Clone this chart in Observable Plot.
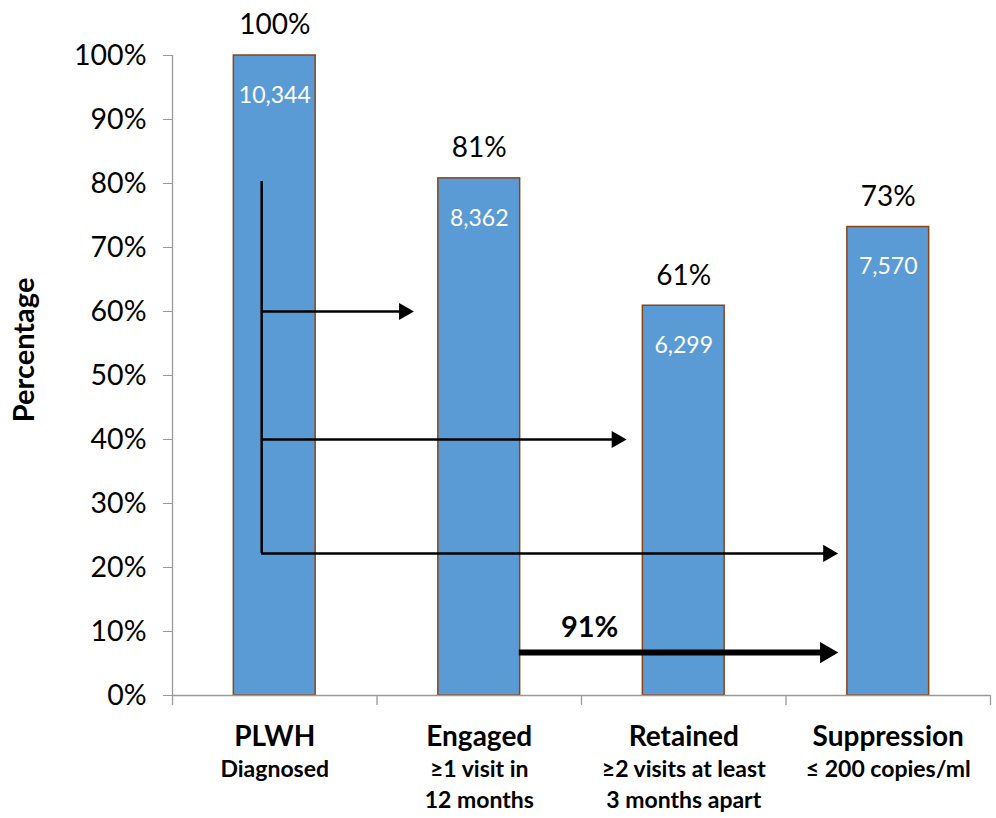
<!DOCTYPE html>
<html>
<head>
<meta charset="utf-8">
<script src="https://cdn.jsdelivr.net/npm/d3@7"></script>
<script src="https://cdn.jsdelivr.net/npm/@observablehq/plot@0.6"></script>
<style>
  html, body { margin: 0; padding: 0; background: #fff; }
  #chart { width: 996px; height: 818px; }
</style>
</head>
<body>
<div id="chart"></div>
<script>
// ---- data ----
const categories = ["PLWH", "Engaged", "Retained", "Suppression"];
const subLabels = ["Diagnosed", "≥1 visit in\n12 months", "≥2 visits at least\n3 months apart", "≤ 200 copies/ml"];
const percents = [100, 80.8, 60.9, 73.2];
const pctLabels = ["100%", "81%", "61%", "73%"];
const counts = ["10,344", "8,362", "6,299", "7,570"];
const yTicks = [0, 10, 20, 30, 40, 50, 60, 70, 80, 90, 100];
const bandEdges = [-0.5, 0.5, 1.5, 2.5, 3.5];
// annotation arrows (x in category-index units, y in percent)
const stem = {x: -0.064, y1: 80.3, y2: 22.2};
const thinArrows = [
  {x1: -0.064, x2: 0.681, y: 60},
  {x1: -0.064, x2: 1.721, y: 40},
  {x1: -0.064, x2: 2.755, y: 22.2}
];
const thickArrow = [{x1: 1.196, x2: 2.755, y: 6.7}];
const ratioLabel = [{x: 1.54, y: 10.6, text: "91%"}];

const bars = categories.map((c, i) => ({i, c, p: percents[i], lab: pctLabels[i], n: counts[i], sub: subLabels[i]}));

const FONT = "Lato, 'Open Sans', sans-serif";
const pxPerUnit = 204;

const chart = Plot.plot({
  width: 996,
  height: 818,
  marginLeft: 172,
  marginRight: 6,
  marginTop: 55,
  marginBottom: 123,
  style: {fontFamily: FONT, background: "#fff", overflow: "visible"},
  x: {domain: [-0.5, 3.5], axis: null},
  y: {domain: [0, 100], axis: null},
  marks: [
    // bars
    Plot.rectY(bars, {x1: d => d.i - 0.2, x2: d => d.i + 0.2, y1: 0, y2: "p", fill: "#5B9BD5", stroke: "#8B4513", strokeWidth: 1.5}),
    // y axis
    Plot.ruleX([-0.5], {y1: 0, y2: 100, stroke: "#9a9a9a", strokeWidth: 1.3}),
    Plot.axisY({ticks: yTicks, tickFormat: d => d + "%", tickSize: 9, tickPadding: 17, stroke: "#9a9a9a", fill: "#000", fontSize: 28.5, label: null}),
    // x axis
    Plot.ruleY([0], {x1: -0.5, x2: 3.5, stroke: "#9a9a9a", strokeWidth: 1.3}),
    Plot.ruleX(bandEdges, {x: d => d, y1: 0, y2: -1.55, stroke: "#9a9a9a", strokeWidth: 1.3}),
    // y label
    Plot.text(["Percentage"], {x: -0.5, y: 54, dx: -148, rotate: -90, text: d => d, fontSize: 29, fontWeight: "bold", fill: "#000"}),
    // top percentage labels
    Plot.text(bars, {x: "i", y: "p", text: "lab", dy: -30, fontSize: 28, fill: "#000"}),
    // counts inside bars
    Plot.text(bars, {x: "i", y: "p", text: "n", dy: 40, fontSize: 23, fill: "#fff"}),
    // category labels
    Plot.text(bars, {x: "i", frameAnchor: "bottom", text: "c", dy: 50, fontSize: 28, fontWeight: "bold", fill: "#000"}),
    Plot.text(bars, {x: "i", frameAnchor: "bottom", text: "sub", dy: 59, lineAnchor: "top", lineHeight: 1.37, fontSize: 23, fontWeight: "bold", fill: "#000"}),
    // arrows
    Plot.ruleX([stem], {x: "x", y1: "y1", y2: "y2", stroke: "#000", strokeWidth: 2.5}),
    Plot.ruleY(thinArrows, {x1: "x1", x2: d => d.x2 - 8 / pxPerUnit, y: "y", stroke: "#000", strokeWidth: 2.5}),
    Plot.dot(thinArrows, {x: "x2", y: "y", symbol: "triangle", r: 6.4, rotate: 90, dx: -10, fill: "#000", stroke: "none"}),
    Plot.ruleY(thickArrow, {x1: "x1", x2: d => d.x2 - 10 / pxPerUnit, y: "y", stroke: "#000", strokeWidth: 6}),
    Plot.dot(thickArrow, {x: "x2", y: "y", symbol: "triangle", r: 7.8, rotate: 90, dx: -12, fill: "#000", stroke: "none"}),
    Plot.text(ratioLabel, {x: "x", y: "y", text: "text", fontSize: 29, fontWeight: "bold", fill: "#000"})
  ]
});
document.getElementById("chart").appendChild(chart);
</script>
</body>
</html>
